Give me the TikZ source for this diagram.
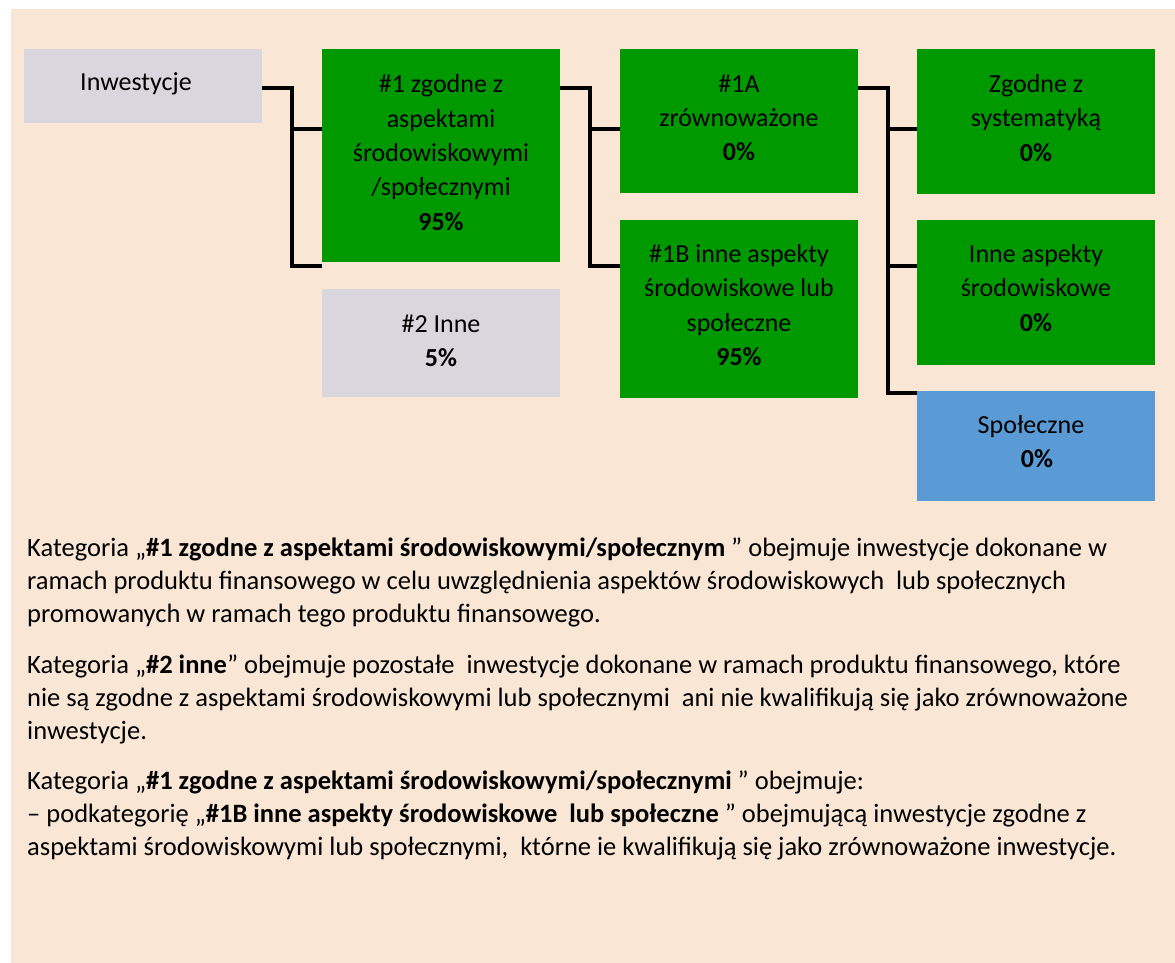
\documentclass[tikz,border=0pt]{standalone}
\usepackage{fontspec}
\setmainfont{Carlito}
\definecolor{peach}{HTML}{F9E6D4}
\definecolor{boxgrey}{HTML}{D9D6DE}
\definecolor{boxgreen}{HTML}{009900}
\definecolor{boxblue}{HTML}{5B9BD5}
\tikzset{
  box/.style={draw=none, minimum width=238pt, inner sep=0pt},
  txt/.style={inner sep=0pt, align=center, font=\fontsize{26}{34.3}\selectfont, text=black},
  conn/.style={line width=4pt, draw=black, line join=miter},
  para/.style={anchor=base west, inner sep=0pt, font=\fontsize{26.5}{33}\selectfont}
}
\begin{document}
\begin{tikzpicture}[x=1pt,y=-1pt]
\useasboundingbox (0,0) rectangle (1175,963);
\fill[white] (0,0) rectangle (1175,963);
\fill[peach] (11,9) rectangle (1175,963);

% boxes
\node[box, fill=boxgrey, minimum height=74pt] (inw) at (143,86) {};
\node[box, fill=boxgreen, minimum height=213pt] (n1) at (441,155.5) {};
\node[box, fill=boxgrey, minimum height=108pt] (n2) at (441,343) {};
\node[box, fill=boxgreen, minimum height=144pt] (n1a) at (739,121) {};
\node[box, fill=boxgreen, minimum height=178pt] (n1b) at (739,309) {};
\node[box, fill=boxgreen, minimum height=145pt] (zg) at (1036,121.5) {};
\node[box, fill=boxgreen, minimum height=145pt] (ia) at (1036,292.5) {};
\node[box, fill=boxblue, minimum height=110pt] (sp) at (1036,446) {};

% box texts
\node[txt, xshift=-7pt, yshift=2pt] (inwt) at (inw) {Inwestycje};
\node[txt, yshift=3pt] (n1t) at (n1) {\#1 zgodne z\\aspektami\\środowiskowymi\\/społecznymi\\\textbf{95\%}};
\node[txt, yshift=2.5pt] (n2t) at (n2) {\#2 Inne\\\textbf{5\%}};
\node[txt, yshift=3pt] (n1at) at (n1a) {\#1A\\zrównoważone\\\textbf{0\%}};
\node[txt, yshift=4pt] (n1bt) at (n1b) {\#1B inne aspekty\\środowiskowe lub\\społeczne\\\textbf{95\%}};
\node[txt, yshift=3.5pt] (zgt) at (zg) {Zgodne z\\systematyką\\\textbf{0\%}};
\node[txt, yshift=4.5pt] (iat) at (ia) {Inne aspekty\\środowiskowe\\\textbf{0\%}};
\node[txt, xshift=-5pt, yshift=4.5pt] (spt) at (sp) {Społeczne\\\hspace*{12pt}\textbf{0\%}};

% connectors
\coordinate (j1) at (292,88);
\coordinate (j2) at (590,88);
\coordinate (j3) at (888,88);
\draw[conn] (inw.east |- j1) -- (j1) -- (j1 |- 0,266) -- (n1.west |- 0,266);
\draw[conn] (j1 |- 0,129) -- (n1.west |- 0,129);
\draw[conn] (n1.east |- j2) -- (j2) -- (j2 |- 0,266) -- (n1b.west |- 0,266);
\draw[conn] (j2 |- 0,129) -- (n1a.west |- 0,129);
\draw[conn] (n1a.east |- j3) -- (j3) -- (j3 |- 0,393) -- (sp.west |- 0,393);
\draw[conn] (j3 |- 0,129) -- (zg.west |- 0,129);
\draw[conn] (j3 |- 0,266) -- (ia.west |- 0,266);

% paragraphs
\node[para] (p1a) at (27,556) {Kategoria „\textbf{\#1 zgodne z aspektami środowiskowymi/społecznym} ” obejmuje inwestycje dokonane w};
\node[para] (p1b) at (27,589) {ramach produktu finansowego w celu uwzględnienia aspektów środowiskowych\ \ lub społecznych};
\node[para] (p1c) at (27,622) {promowanych w ramach tego produktu finansowego.};
\node[para] (p2a) at (27,673) {Kategoria „\textbf{\#2 inne}” obejmuje pozostałe\ \ inwestycje dokonane w ramach produktu finansowego, które};
\node[para] (p2b) at (27,706) {nie są zgodne z aspektami środowiskowymi lub społecznymi\ \ ani nie kwalifikują się jako zrównoważone};
\node[para] (p2c) at (27,739) {inwestycje.};
\node[para] (p3a) at (27,789) {Kategoria „\textbf{\#1 zgodne z aspektami środowiskowymi/społecznymi} ” obejmuje:};
\node[para] (p3b) at (27,822) {– podkategorię „\textbf{\#1B inne aspekty środowiskowe\ \ lub społeczne} ” obejmującą inwestycje zgodne z};
\node[para] (p3c) at (27,855) {aspektami środowiskowymi lub społecznymi,\ \ którne ie kwalifikują się jako zrównoważone inwestycje.};
\end{tikzpicture}
\end{document}
